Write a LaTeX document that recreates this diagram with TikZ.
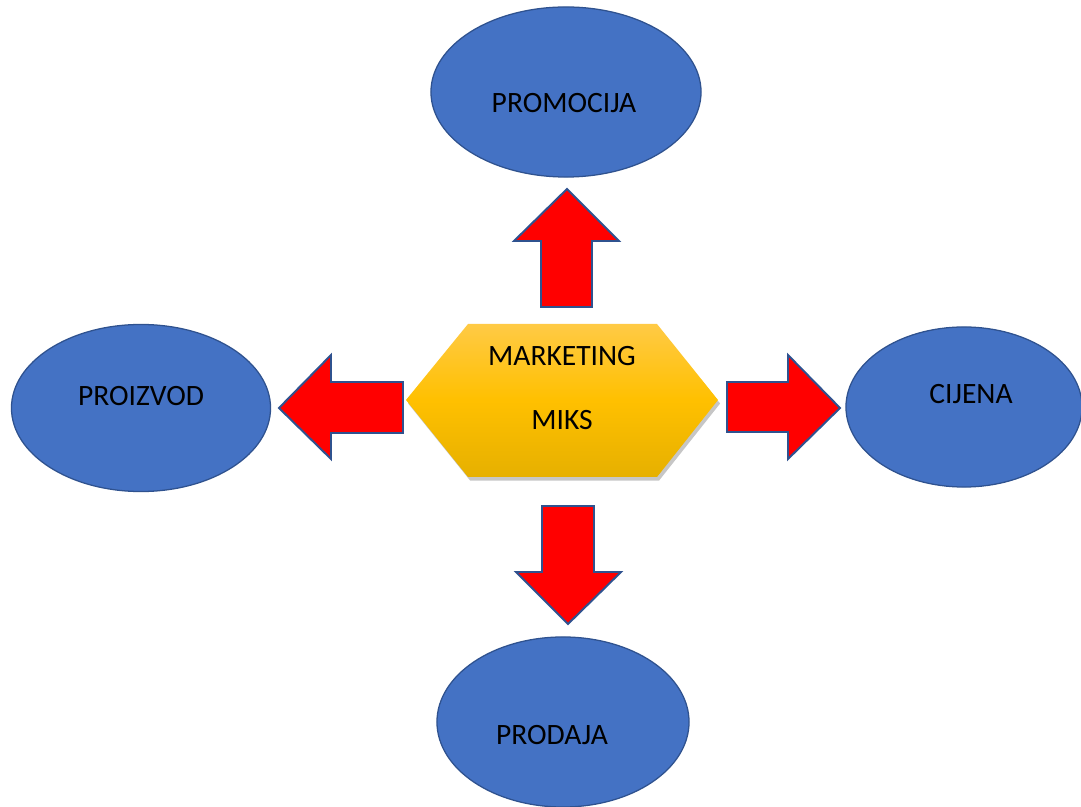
\documentclass[tikz,border=0pt]{standalone}
\usepackage{fontspec}
\setmainfont{Carlito}
\usetikzlibrary{shapes.geometric}
\usetikzlibrary{positioning}
\usetikzlibrary{calc}
\usetikzlibrary{shadows}
\definecolor{elfill}{HTML}{4472C4}
\definecolor{eldraw}{HTML}{2F528F}
\definecolor{arrred}{HTML}{FF0000}
\definecolor{goldtop}{HTML}{FFCA45}
\definecolor{goldmid}{HTML}{FFC000}
\definecolor{goldbot}{HTML}{E6B000}
\begin{document}
\begin{tikzpicture}[x=0.025cm,y=-0.025cm,el/.style={ellipse, fill=elfill, draw=eldraw, line width=0.9pt, inner sep=0pt},txt/.style={font=\fontsize{21}{25}\selectfont, inner sep=0pt, anchor=base},blk/.style={fill=arrred, draw=eldraw, line width=1.4pt, line join=miter}]
\useasboundingbox (0,0) rectangle (1081,807);
% ellipses
\node (prom) at (566,92) [el,minimum width=6.75cm,minimum height=4.25cm] {};
\node (proi) at (141,408) [el,minimum width=6.475cm,minimum height=4.175cm] {};
\node (cij) at (964,407) [el,minimum width=5.9cm,minimum height=4cm] {};
\node (prod) at (563,722) [el,minimum width=6.3cm,minimum height=4.25cm] {};
\node (promt) at ($(prom)+(-2,21)$) [txt] {PROMOCIJA};
\node (proit) at ($(proi)+(0,-2)$) [txt] {PROIZVOD};
\node (cijt) at ($(cij)+(7,-3)$) [txt] {CIJENA};
\node (prodt) at ($(prod)+(-11,22)$) [txt] {PRODAJA};
% hexagon
\draw[draw=none, top color=goldtop, bottom color=goldbot, middle color=goldmid, drop shadow={opacity=0.45, shadow xshift=1.5pt, shadow yshift=-2.5pt}] (406,400) -- (468,324) -- (657,324) -- (718,400) -- (657,477) -- (468,477) -- cycle;
\node (mark) at (562,366) [txt] {MARKETING};
\node (miks) at (562,430) [txt] {MIKS};
% arrows
\draw[blk] (541,307) -- (541,241) -- (514,241) -- (567,189) -- (619,241) -- (592,241) -- (592,307) -- cycle;
\draw[blk] (403,382) -- (331,382) -- (331,355) -- (279,408) -- (331,459) -- (331,433) -- (403,433) -- cycle;
\draw[blk] (727,382) -- (788,382) -- (788,355) -- (840,408) -- (788,459) -- (788,432) -- (727,432) -- cycle;
\draw[blk] (542,506) -- (594,506) -- (594,572) -- (621,572) -- (568,624) -- (516,572) -- (542,572) -- cycle;
\end{tikzpicture}
\end{document}
